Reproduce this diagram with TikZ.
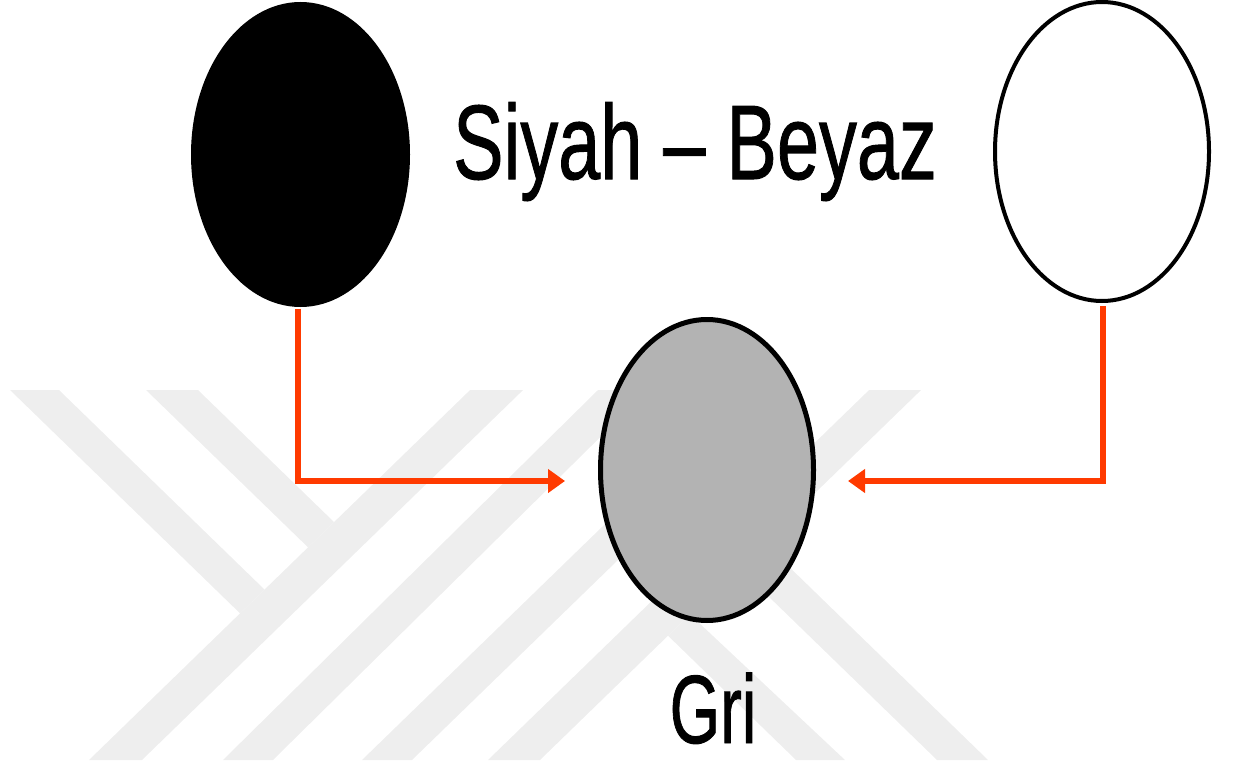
\documentclass[tikz,border=0pt]{standalone}
\usepackage{fontspec}
\setmainfont{Liberation Sans}
\newfontfamily\lblfont[FakeBold=1]{Liberation Sans}
\usepackage{graphicx}
\usetikzlibrary{shapes.geometric,arrows.meta}
\definecolor{wm}{RGB}{238,238,238}
\definecolor{arr}{RGB}{255,58,0}
\definecolor{grayfill}{RGB}{179,179,179}
\begin{document}
\begin{tikzpicture}[x=1pt,y=-1pt,
  oval/.style={ellipse, inner sep=0pt, outer sep=0pt},
  conn/.style={draw=arr, line width=5.5pt, -{Triangle[length=17pt,width=23pt]}},
  lbl/.style={inner sep=0pt, anchor=base, font=\lblfont},
  wmark/.style={fill=wm}]
\useasboundingbox (0,0) rectangle (1233,770);
% watermark
\begin{scope}
\clip (0,390) rectangle (1233,760);
% down-left stripes
\fill[wmark] (89,760) -- (142,760) -- (523.1,390) -- (470.1,390) -- cycle;
\fill[wmark] (223,760) -- (273,760) -- (648,390) -- (598,390) -- cycle;
\fill[wmark] (362,760) -- (412,760) -- (793.1,390) -- (743.1,390) -- cycle;
\fill[wmark] (488,760) -- (540,760) -- (921.1,390) -- (869.1,390) -- cycle;
% branches
\fill[wmark] (10,390) -- (59,390) -- (264.6,589.6) -- (240,613.3) -- cycle;
\fill[wmark] (146,390) -- (198,390) -- (334.1,522.1) -- (308,547.3) -- cycle;
\fill[wmark] (738.5,567.3) -- (764,542.5) -- (988,760) -- (937,760) -- cycle;
\fill[wmark] (668,635.7) -- (690,614.4) -- (845,760) -- (796,760) -- cycle;
\end{scope}
% ellipses
\node[oval, fill=black, minimum width=219pt, minimum height=305pt] (blk) at (300.5,154.5) {};
\node[oval, draw=black, fill=white, line width=4pt, minimum width=214pt, minimum height=299pt] (wht) at (1102,151.5) {};
\node[oval, draw=black, fill=grayfill, line width=5pt, minimum width=213pt, minimum height=301pt] (gry) at (707,470) {};
% labels
\node[lbl] (t1) at (695,179) {\fontsize{106}{110}\selectfont\scalebox{0.714}[1]{Siyah – Beyaz}};
\node[lbl] (t2) at (713,743) {\fontsize{97}{100}\selectfont\scalebox{0.67}[1]{Gri}};
% connectors
\coordinate (lt) at (565,481);
\coordinate (rt) at (848,481);
\draw[conn, shorten <=1.5pt] ([xshift=-2.5pt]blk.south) |- (lt);
\draw[conn, shorten <=5pt] ([xshift=1pt]wht.south) |- (rt);
\end{tikzpicture}
\end{document}
